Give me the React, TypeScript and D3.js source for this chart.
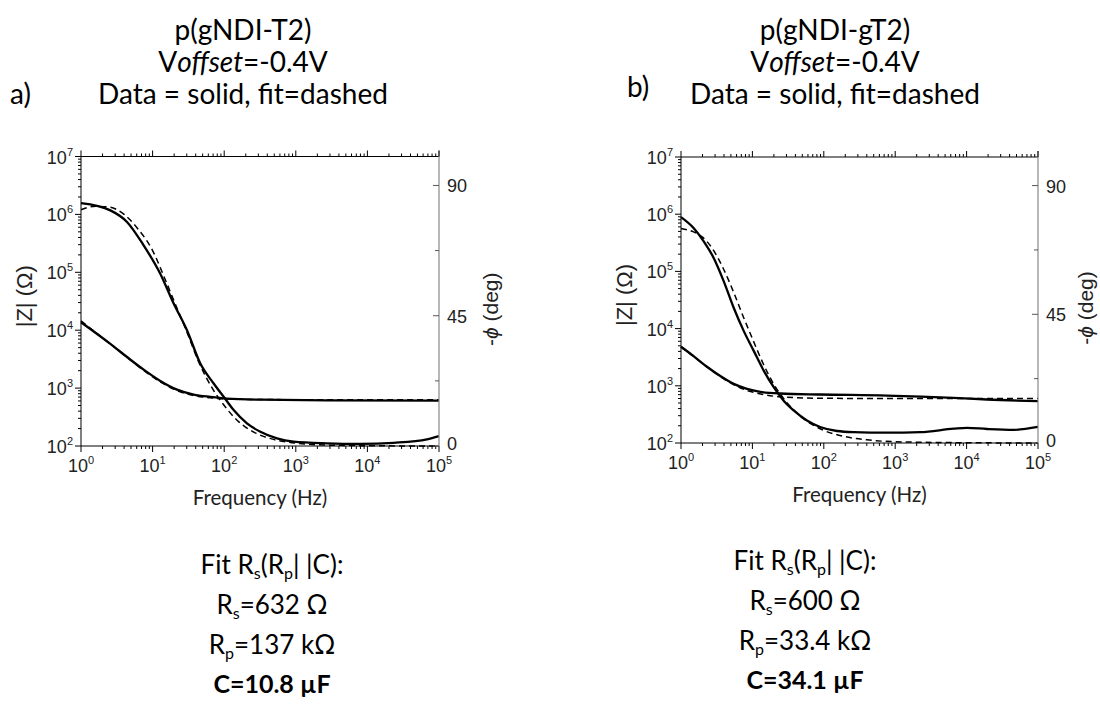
import React from 'react';
import * as d3 from 'd3';

// ---------- axis ticks ----------
const freqMajor = [1, 10, 100, 1000, 10000, 100000];
const freqExp = ['0', '1', '2', '3', '4', '5'];
const zMajor = [1e2, 1e3, 1e4, 1e5, 1e6, 1e7];
const zExp = ['2', '3', '4', '5', '6', '7'];
const phaseMajor = [0, 45, 90];
const phaseMinor = [22.5, 67.5];

// ---------- panel a: p(gNDI-T2) ----------
const aPhaseF = [1, 2.57, 4.39, 7.5, 12.8, 19.7, 30.2, 46.4, 71.3, 98.3, 135.6, 208, 320, 546, 933, 2729, 7943, 23280, 67900, 100000];
const aPhaseV = [83.9, 81.4, 77.4, 69.3, 59.5, 49.2, 40, 28.5, 21.6, 17, 12.4, 7.8, 4.9, 2.6, 1.5, 0.9, 0.7, 1.1, 2.3, 3.4];
const aPhaseFitF = [1, 1.6, 2.5, 4, 6, 10, 15, 20, 30, 45, 70, 100, 150, 220, 330, 500, 800, 1500, 3000, 10000, 100000];
const aPhaseFitV = [81.6, 82.8, 82.5, 80, 75.5, 67.5, 57.5, 50, 39.5, 28.5, 19.5, 14, 9, 5.8, 3.6, 2.2, 1.3, 0.6, 0.3, 0.1, 0.0];
const aZF = [1, 2.57, 4.39, 7.5, 12.8, 21.9, 37.5, 64, 109, 319, 2750, 100000];
const aZV = [13700, 5800, 3440, 2080, 1330, 942, 773, 705, 660, 631, 616, 610];
const aZFitF = [1, 2.5, 4.4, 7.5, 12.8, 22, 37.5, 64, 110, 320, 2750, 100000];
const aZFitV = [14500, 5900, 3400, 2020, 1280, 905, 745, 680, 648, 635, 630, 630];

// ---------- panel b: p(gNDI-gT2) ----------
const bPhaseF = [1, 1.5, 2.08, 2.87, 3.96, 5.47, 7.55, 10.4, 14.4, 19.9, 27.4, 37.8, 58, 89, 153, 262, 768, 2250, 6590, 10100, 19300, 45600, 100000];
const bPhaseV = [79, 75.2, 70.5, 64.7, 56.6, 47.3, 39.2, 32.3, 25.3, 19.5, 14.8, 11.4, 7.9, 5.6, 4.2, 3.8, 3.6, 3.8, 5.0, 5.3, 4.9, 4.6, 5.6];
const bPhaseFitF = [1, 1.5, 2, 3, 4, 5.5, 7.5, 10, 14, 20, 30, 50, 100, 200, 400, 1000, 10000, 100000];
const bPhaseFitV = [75, 73.8, 72, 66.5, 60.5, 52.5, 44, 36.5, 28, 20.5, 14.3, 8.8, 4.4, 2.2, 1.1, 0.45, 0.1, 0.0];
const bZF = [1, 1.5, 2.31, 3.55, 5.47, 8.4, 12.9, 24.6, 89, 768, 6590, 19300, 100000];
const bZV = [4830, 3300, 2150, 1480, 1080, 885, 785, 733, 705, 676, 616, 576, 538];
const bZFitF = [1, 1.5, 2.3, 3.5, 5.5, 8.4, 13, 25, 90, 1000, 100000];
const bZFitV = [4750, 3250, 2150, 1470, 1040, 830, 720, 640, 605, 600, 600];

const TITLE_FONT = "Lato, 'Open Sans', sans-serif";
const TICK_FONT = "'Liberation Sans', Arial, sans-serif";

type Box = { x0: number; x1: number; y0: number; y1: number };

function zip(f: number[], v: number[]) {
  return f.map((ff, i) => [ff, v[i]] as [number, number]);
}

function Panel(props: {
  box: Box;
  phase: [number, number][];
  phaseFit: [number, number][];
  z: [number, number][];
  zFit: [number, number][];
  zLabelX: number;
  phLabelX: number;
}) {
  const { box } = props;
  const x = d3.scaleLog().domain([1, 1e5]).range([box.x0, box.x1]);
  const yZ = d3.scaleLog().domain([1e2, 1e7]).range([box.y1, box.y0]);
  const yP = d3.scaleLinear().domain([0, 100]).range([box.y1, box.y0]);
  const lineZ = d3.line<[number, number]>().x(d => x(d[0])).y(d => yZ(d[1])).curve(d3.curveMonotoneX);
  const lineP = d3.line<[number, number]>().x(d => x(d[0])).y(d => yP(d[1])).curve(d3.curveMonotoneX);

  const xMinor: number[] = [];
  for (let d = 0; d < 5; d++) for (let k = 2; k <= 9; k++) xMinor.push(k * Math.pow(10, d));
  const yMinor: number[] = [];
  for (let d = 2; d < 7; d++) for (let k = 2; k <= 9; k++) yMinor.push(k * Math.pow(10, d));

  const midY = (box.y0 + box.y1) / 2;
  return (
    <g>
      {/* curves */}
      <path d={lineZ(props.zFit) || ''} fill="none" stroke="#000" strokeWidth={1.5} strokeDasharray="6 4" />
      <path d={lineP(props.phaseFit) || ''} fill="none" stroke="#000" strokeWidth={1.5} strokeDasharray="6 4" />
      <path d={lineZ(props.z) || ''} fill="none" stroke="#000" strokeWidth={2.3} />
      <path d={lineP(props.phase) || ''} fill="none" stroke="#000" strokeWidth={2.3} />

      {/* axes lines */}
      <line x1={box.x0} x2={box.x1} y1={box.y1} y2={box.y1} stroke="#000" strokeWidth={1} />
      <line x1={box.x0} x2={box.x1} y1={box.y0} y2={box.y0} stroke="#000" strokeWidth={1} />
      <line x1={box.x0} x2={box.x0} y1={box.y0} y2={box.y1} stroke="#000" strokeWidth={1} />
      <line x1={box.x1} x2={box.x1} y1={box.y0 - 6} y2={box.y1} stroke="#888" strokeWidth={1.2} />

      {/* x ticks bottom/top */}
      {freqMajor.map(f => (
        <g key={'xm' + f}>
          <line x1={x(f)} x2={x(f)} y1={box.y1} y2={box.y1 + 6} stroke="#000" />
          <line x1={x(f)} x2={x(f)} y1={box.y0} y2={box.y0 - 6} stroke="#000" />
        </g>
      ))}
      {xMinor.map(f => (
        <g key={'xn' + f}>
          <line x1={x(f)} x2={x(f)} y1={box.y1} y2={box.y1 + 3} stroke="#000" />
          <line x1={x(f)} x2={x(f)} y1={box.y0} y2={box.y0 - 3} stroke="#000" />
        </g>
      ))}
      {freqMajor.map((f, i) => (
        <text key={'xl' + f} x={x(f)} y={box.y1 + 26} textAnchor="middle" fontFamily={TICK_FONT} fontSize={18} fill="#222">
          10<tspan dy={-8} fontSize={11}>{freqExp[i]}</tspan>
        </text>
      ))}

      {/* left y ticks */}
      {zMajor.map(v => (
        <line key={'ym' + v} x1={box.x0} x2={box.x0 - 6} y1={yZ(v)} y2={yZ(v)} stroke="#000" />
      ))}
      {yMinor.map(v => (
        <line key={'yn' + v} x1={box.x0} x2={box.x0 - 3} y1={yZ(v)} y2={yZ(v)} stroke="#000" />
      ))}
      {zMajor.map((v, i) => (
        <text key={'yl' + v} x={box.x0 - 8} y={yZ(v) + 7} textAnchor="end" fontFamily={TICK_FONT} fontSize={18} fill="#222">
          10<tspan dy={-8} fontSize={11}>{zExp[i]}</tspan>
        </text>
      ))}

      {/* right phase ticks */}
      {phaseMajor.map(v => (
        <line key={'pm' + v} x1={box.x1} x2={box.x1 - 6} y1={yP(v)} y2={yP(v)} stroke="#555" />
      ))}
      {phaseMinor.map(v => (
        <line key={'pn' + v} x1={box.x1} x2={box.x1 - 4} y1={yP(v)} y2={yP(v)} stroke="#555" />
      ))}
      {phaseMajor.map(v => (
        <text key={'pl' + v} x={box.x1 + 8} y={yP(v) + (v === 0 ? 4 : 7)} fontFamily={TICK_FONT} fontSize={18} fill="#222">{v}</text>
      ))}

      {/* axis titles */}
      <text transform={`translate(${props.zLabelX},${midY - 5}) rotate(-90)`} textAnchor="middle" fontFamily={TICK_FONT} fontSize={22} fill="#222">
        |Z| (Ω)
      </text>
      <text transform={`translate(${props.phLabelX},${midY + 8}) rotate(-90)`} textAnchor="middle" fontFamily={TICK_FONT} fontSize={21} fill="#222">
        -<tspan fontStyle="italic">ϕ</tspan> (deg)
      </text>
      <text x={(box.x0 + box.x1) / 2} y={box.y1 + 59} textAnchor="middle" fontFamily={TITLE_FONT} fontSize={20.5} fill="#222">
        Frequency (Hz)
      </text>
    </g>
  );
}

function FitBlock(props: { cx: number; y: number; rs: string; rp: string; c: string }) {
  const { cx, y } = props;
  const fs = 26;
  const sub = { fontSize: 16 };
  return (
    <g fontFamily={TITLE_FONT} fontSize={fs} fill="#000" textAnchor="middle">
      <text x={cx} y={y}>
        Fit R<tspan dy={5} {...sub}>s</tspan><tspan dy={-5}>(R</tspan><tspan dy={5} {...sub}>p</tspan><tspan dy={-5}>| |C):</tspan>
      </text>
      <text x={cx} y={y + 40}>
        R<tspan dy={5} {...sub}>s</tspan><tspan dy={-5}>{props.rs}</tspan>
      </text>
      <text x={cx} y={y + 80}>
        R<tspan dy={5} {...sub}>p</tspan><tspan dy={-5}>{props.rp}</tspan>
      </text>
      <text x={cx} y={y + 119} fontWeight="bold" fontSize={25}>{props.c}</text>
    </g>
  );
}

function Title(props: { cx: number; name: string }) {
  const { cx } = props;
  return (
    <g fontFamily={TITLE_FONT} fontSize={28} fill="#000" textAnchor="middle">
      <text x={cx} y={40}>{props.name}</text>
      <text x={cx} y={72}>V<tspan fontStyle="italic">offset</tspan>=-0.4V</text>
      <text x={cx} y={104}>Data = solid, fit=dashed</text>
    </g>
  );
}

export default function App() {
  const boxA: Box = { x0: 81, x1: 439, y0: 156.5, y1: 446 };
  const boxB: Box = { x0: 681, x1: 1038, y0: 157, y1: 443 };
  return (
    <svg width={1100} height={706} style={{ position: 'absolute', left: 0, top: 0, background: '#fff' }}>
      <rect width={1100} height={706} fill="#fff" />
      <Title cx={243} name="p(gNDI-T2)" />
      <Title cx={835} name="p(gNDI-gT2)" />
      <text x={10} y={104} fontFamily={TITLE_FONT} fontSize={28}>a)</text>
      <text x={627} y={97} fontFamily={TITLE_FONT} fontSize={28}>b)</text>

      <Panel box={boxA} phase={zip(aPhaseF, aPhaseV)} phaseFit={zip(aPhaseFitF, aPhaseFitV)}
        z={zip(aZF, aZV)} zFit={zip(aZFitF, aZFitV)} zLabelX={32} phLabelX={498} />
      <Panel box={boxB} phase={zip(bPhaseF, bPhaseV)} phaseFit={zip(bPhaseFitF, bPhaseFitV)}
        z={zip(bZF, bZV)} zFit={zip(bZFitF, bZFitV)} zLabelX={632} phLabelX={1093} />

      <FitBlock cx={272} y={574} rs="=632 Ω" rp="=137 kΩ" c="C=10.8 µF" />
      <FitBlock cx={805} y={570} rs="=600 Ω" rp="=33.4 kΩ" c="C=34.1 µF" />
    </svg>
  );
}
